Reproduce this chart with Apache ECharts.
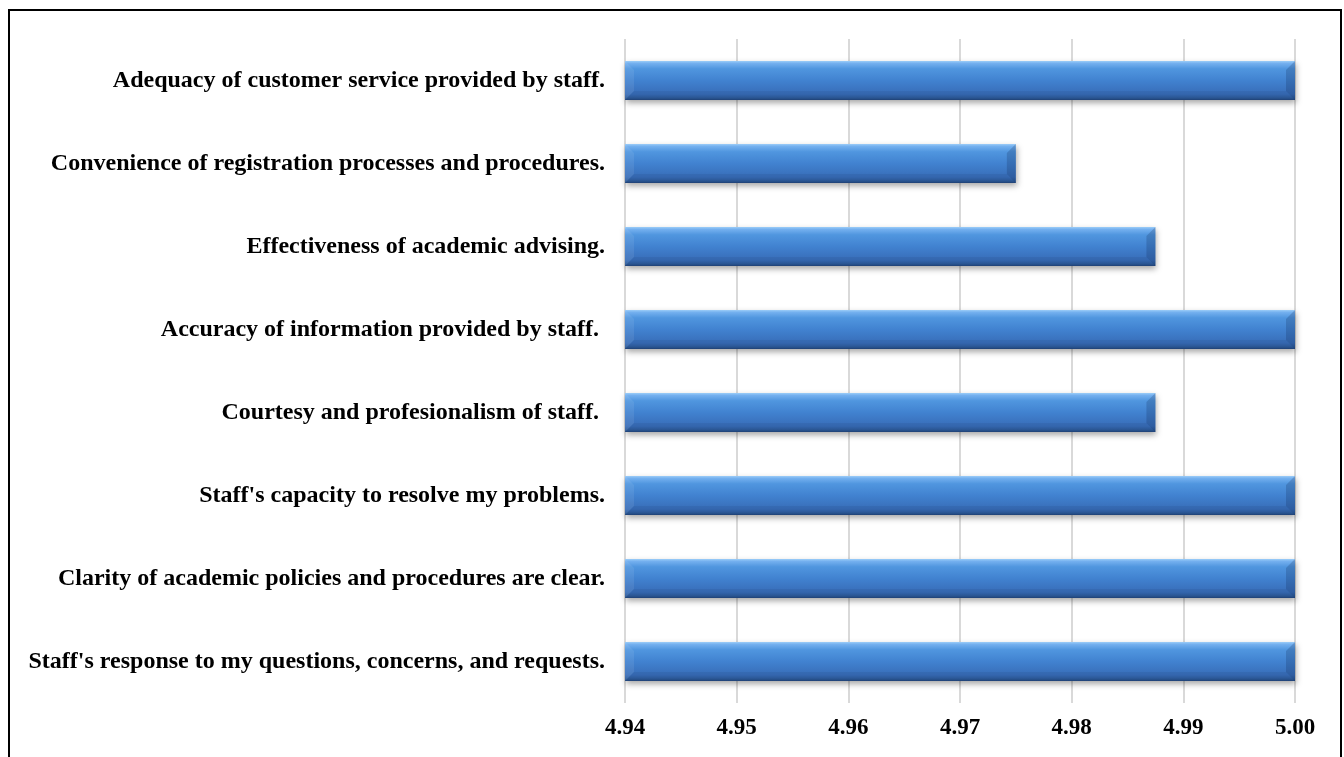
<!DOCTYPE html>
<html>
<head>
<meta charset="utf-8">
<script src="https://cdn.jsdelivr.net/npm/echarts@6/dist/echarts.min.js"></script>
<style>
  html, body { margin: 0; padding: 0; background: #ffffff; }
  #chart { width: 1344px; height: 757px; }
</style>
</head>
<body>
<div id="chart"></div>
<script>
// Survey items, listed top to bottom
const categories = [
  "Adequacy of customer service provided by staff.",
  "Convenience of registration processes and procedures.",
  "Effectiveness of academic advising.",
  "Accuracy of information provided by staff. ",
  "Courtesy and profesionalism of staff. ",
  "Staff's capacity to resolve my problems.",
  "Clarity of academic policies and procedures are clear.",
  "Staff's response to my questions, concerns, and requests."
];
// Mean rating per item
const meanScores = [5.00, 4.975, 4.9875, 5.00, 4.9875, 5.00, 5.00, 5.00];

const axisMin = 4.94;
const axisMax = 5.00;
const axisStep = 0.01;

const chart = echarts.init(document.getElementById('chart'));

// Bevelled bar drawn from the axis minimum to the item's value
function renderBevelBar(params, api) {
  const idx = api.value(1);
  const val = api.value(0);
  const start = api.coord([axisMin, idx]);
  const end = api.coord([val, idx]);
  const band = api.size([0, 1])[1];
  const h = band * 0.47;
  const x0 = start[0], x1 = end[0];
  const y0 = start[1] - h / 2, y1 = start[1] + h / 2;
  const b = 9;
  const body = new echarts.graphic.LinearGradient(0, 0, 0, 1, [
    { offset: 0, color: '#9ccdf8' },
    { offset: 0.06, color: '#74b0ef' },
    { offset: 0.2, color: '#5096df' },
    { offset: 0.5, color: '#4182d0' },
    { offset: 0.85, color: '#386db8' },
    { offset: 0.95, color: '#2c5a98' },
    { offset: 1, color: '#21447a' }
  ]);
  return {
    type: 'group',
    children: [
      {
        type: 'rect',
        shape: { x: x0, y: y0, width: x1 - x0, height: y1 - y0 },
        style: {
          fill: body,
          shadowColor: 'rgba(0,0,0,0.35)',
          shadowBlur: 6,
          shadowOffsetX: 1,
          shadowOffsetY: 3
        }
      },
      {
        type: 'polygon',
        shape: { points: [[x0, y0], [x0 + b, y0 + b], [x0 + b, y1 - b], [x0, y1]] },
        style: { fill: 'rgba(255,255,255,0.08)' }
      },
      {
        type: 'polygon',
        shape: { points: [[x1, y0], [x1 - b, y0 + b], [x1 - b, y1 - b], [x1, y1]] },
        style: { fill: 'rgba(10,30,70,0.20)' }
      },
      {
        type: 'polygon',
        shape: { points: [[x0, y1], [x0 + b, y1 - b], [x1 - b, y1 - b], [x1, y1]] },
        style: { fill: 'rgba(10,30,70,0.08)' }
      }
    ]
  };
}

const option = {
  animation: false,
  backgroundColor: '#ffffff',
  graphic: [
    {
      type: 'rect',
      shape: { x: 9, y: 10, width: 1332, height: 760 },
      style: { fill: 'none', stroke: '#000000', lineWidth: 2 },
      silent: true
    }
  ],
  grid: { left: 625, right: 49, top: 39, bottom: 54 },
  xAxis: {
    type: 'value',
    min: axisMin,
    max: axisMax,
    interval: axisStep,
    axisLine: { show: false },
    axisTick: { show: false },
    splitLine: { show: true, lineStyle: { color: '#d9d9d9', width: 2 } },
    axisLabel: {
      margin: 14,
      fontFamily: '"Liberation Serif", "Times New Roman", serif',
      fontWeight: 'bold',
      fontSize: 23,
      color: '#000000',
      formatter: v => v.toFixed(2)
    }
  },
  yAxis: {
    type: 'category',
    data: categories,
    inverse: true,
    axisLine: { show: false },
    axisTick: { show: false },
    splitLine: { show: false },
    axisLabel: {
      margin: 20,
      fontFamily: '"Liberation Serif", "Times New Roman", serif',
      fontWeight: 'bold',
      fontSize: 24,
      color: '#000000'
    }
  },
  series: [
    {
      type: 'custom',
      renderItem: renderBevelBar,
      encode: { x: 0, y: 1 },
      data: meanScores.map((v, i) => [v, i])
    }
  ]
};

chart.setOption(option);
</script>
</body>
</html>
